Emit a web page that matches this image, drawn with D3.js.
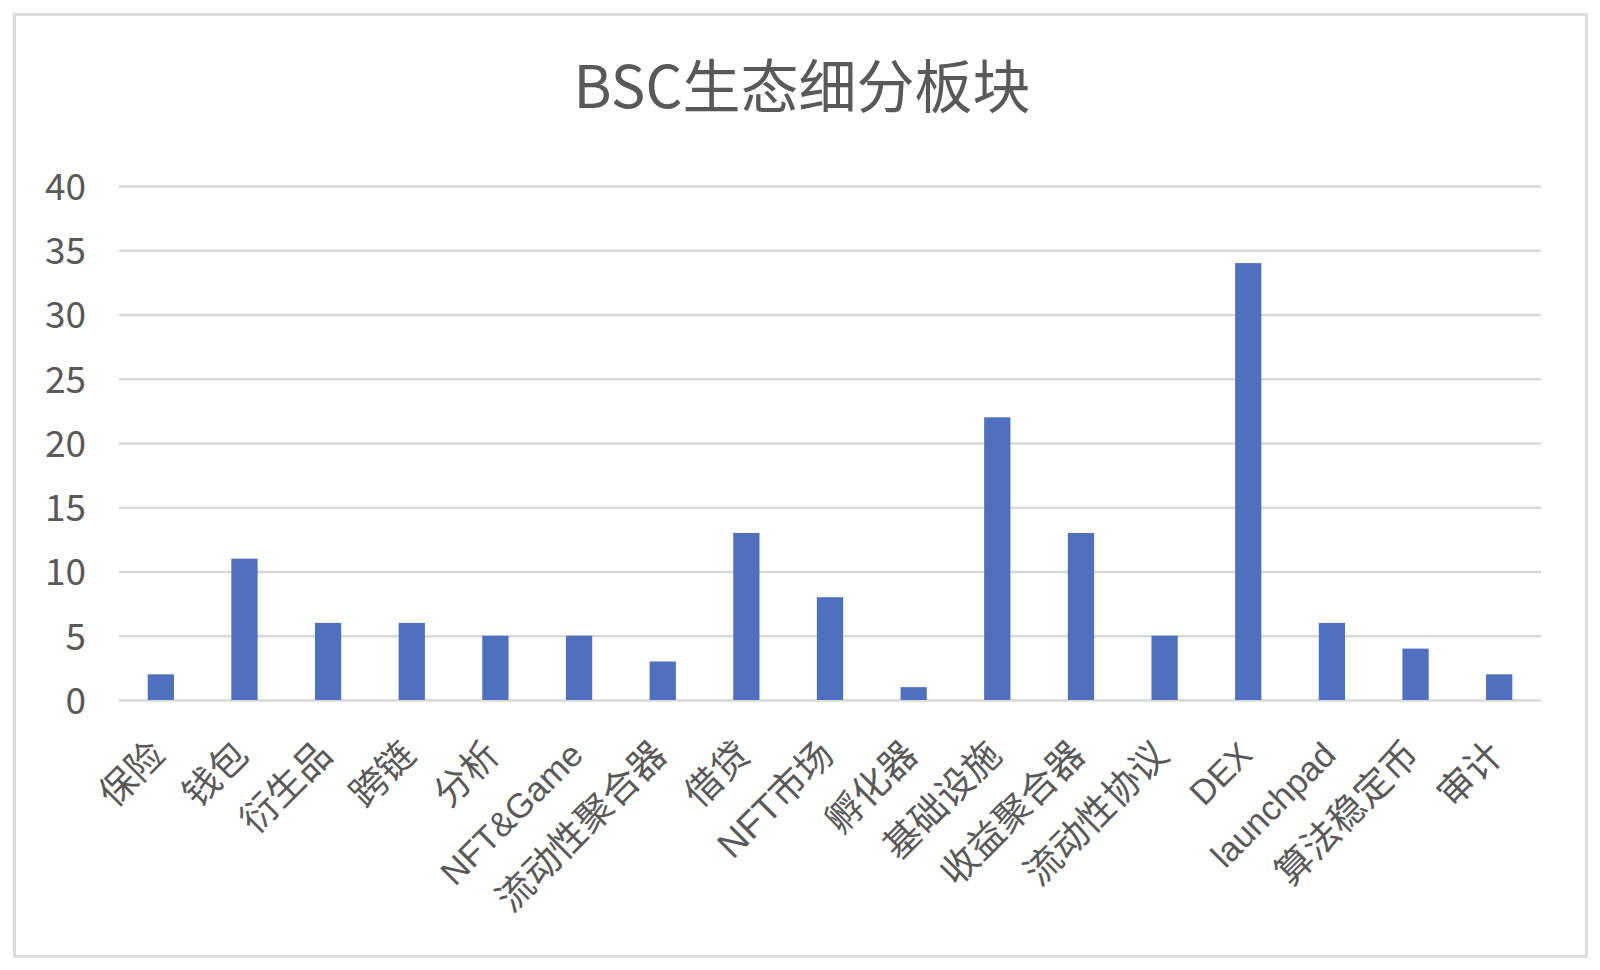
<!DOCTYPE html>
<html>
<head>
<meta charset="utf-8">
<script src="https://cdn.jsdelivr.net/npm/d3@7"></script>
<style>
  html, body { margin: 0; padding: 0; background: #fff; }
  svg { display: block; }
  text { font-family: "Noto Sans CJK SC", "Noto Sans", sans-serif; fill: #595959; }
  .cat text { font-family: "Liberation Sans", "Noto Sans CJK SC", sans-serif; }
</style>
</head>
<body>
<div id="chart"></div>
<script>
// ===========================
// BSC生态细分板块 - column chart
// ===========================

const title = "BSC生态细分板块";
const categories = ["保险", "钱包", "衍生品", "跨链", "分析", "NFT&Game", "流动性聚合器", "借贷",
  "NFT市场", "孵化器", "基础设施", "收益聚合器", "流动性协议", "DEX", "launchpad", "算法稳定币", "审计"];
const counts = [2, 11, 6, 6, 5, 5, 3, 13, 8, 1, 22, 13, 5, 34, 6, 4, 2];
const yTicks = [0, 5, 10, 15, 20, 25, 30, 35, 40];

(function () {
  const W = 1600, H = 970;
  const plot = { left: 119, right: 1541, top: 186, bottom: 700 };

  const svg = d3.select("#chart").append("svg")
    .attr("width", W)
    .attr("height", H);

  // outer frame
  svg.append("rect")
    .attr("x", 14.5)
    .attr("y", 14.5)
    .attr("width", 1572)
    .attr("height", 942)
    .style("fill", "#fff")
    .style("stroke", "#dcdcdc")
    .style("stroke-width", 3);

  svg.append("text")
    .attr("x", 802)
    .attr("y", 108)
    .attr("text-anchor", "middle")
    .style("font-size", "58px")
    .text(title);

  const x = d3.scaleBand()
    .domain(categories)
    .range([plot.left, plot.right])
    .paddingInner(0.686)
    .paddingOuter(0.343);

  const y = d3.scaleLinear()
    .domain([0, 40])
    .range([plot.bottom, plot.top]);

  // gridlines + y labels
  const yAxis = svg.append("g")
    .attr("transform", `translate(${plot.left},0)`)
    .call(d3.axisLeft(y).tickValues(yTicks).tickSize(-(plot.right - plot.left)).tickPadding(33));
  yAxis.select(".domain").remove();
  yAxis.selectAll(".tick line")
    .style("stroke", "#d9d9d9")
    .style("stroke-width", 2.5);
  yAxis.selectAll(".tick text")
    .attr("dy", "0.36em")
    .style("font-size", "37px")
    .style("fill", "#595959");

  // bars
  svg.append("g").selectAll("rect")
    .data(counts)
    .join("rect")
    .attr("x", (d, i) => x(categories[i]))
    .attr("y", d => y(d))
    .attr("width", x.bandwidth())
    .attr("height", d => y(0) - y(d))
    .style("fill", "#4f70be");

  // rotated category labels (pure latin ones render a touch smaller)
  const xAxis = svg.append("g")
    .attr("class", "cat")
    .attr("transform", `translate(0,${plot.bottom})`)
    .call(d3.axisBottom(x).tickSize(0).tickPadding(0));
  xAxis.select(".domain").remove();
  xAxis.selectAll(".tick text")
    .attr("text-anchor", "end")
    .attr("dy", null)
    .attr("y", 0)
    .attr("transform", "translate(6,57) rotate(-45)")
    .style("font-size", d => /^[\x00-\x7F]+$/.test(d) ? "34.5px" : "37px")
    .style("fill", "#595959");
})();
</script>
</body>
</html>
